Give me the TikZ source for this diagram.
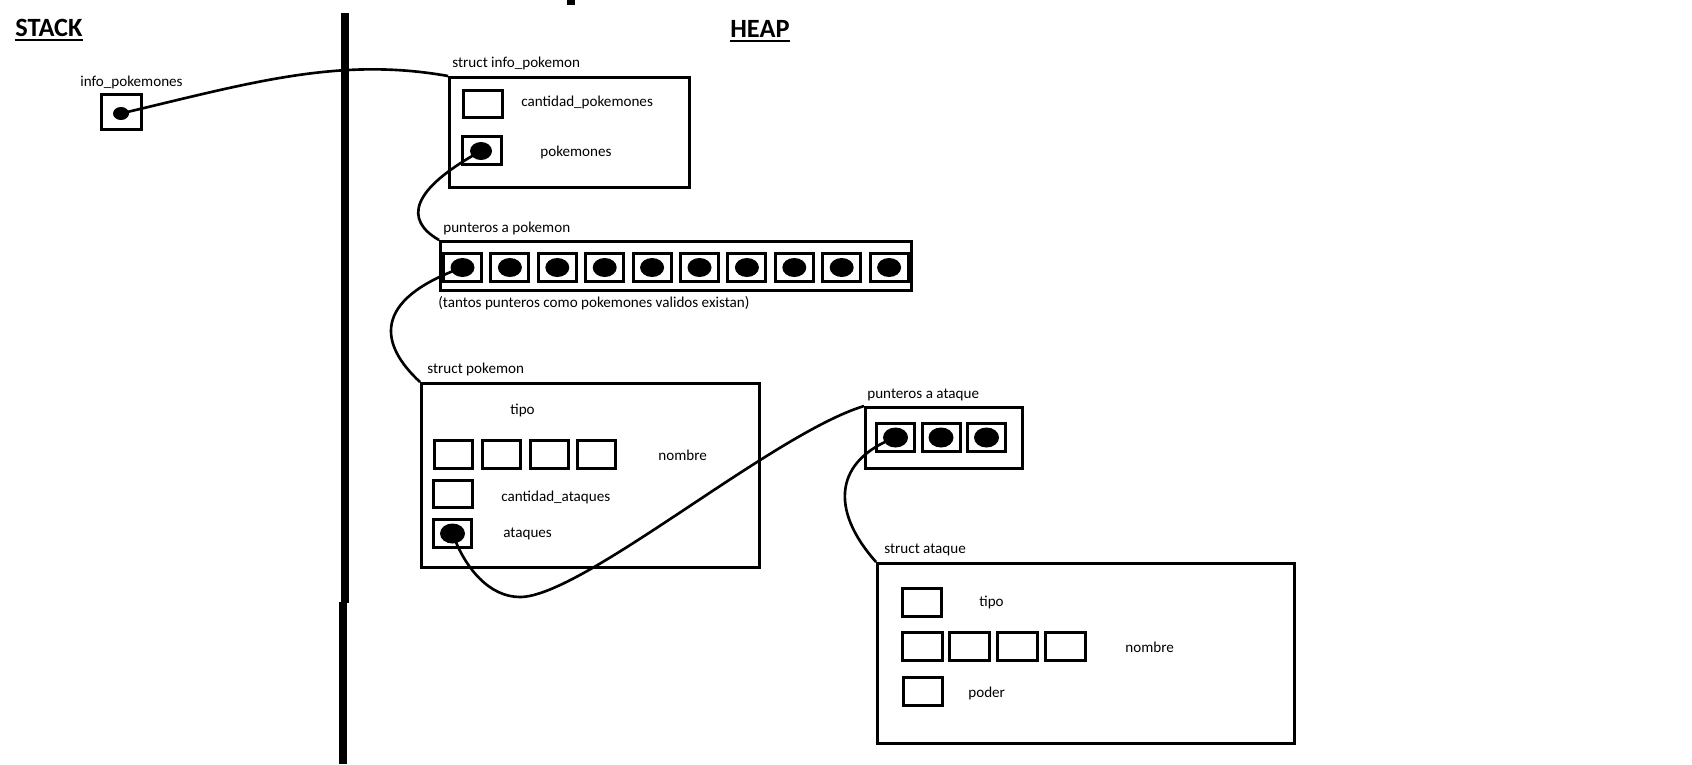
\documentclass[tikz,border=0pt]{standalone}
\usepackage{fontspec}
\setmainfont{Carlito}
\usetikzlibrary{shapes.geometric}

\begin{document}
\begin{tikzpicture}[x=0.02cm, y=-0.02cm,
    membox/.style={draw, line width=1.7pt, inner sep=0pt},
    cell/.style={membox, minimum width=0.76cm, minimum height=0.56cm},
    ptr/.style={ellipse, fill=black, inner sep=0pt, minimum width=0.48cm, minimum height=0.38cm},
    lbl/.style={anchor=west, inner sep=0pt, font=\fontsize{8.6}{10}\selectfont},
    heading/.style={anchor=base west, inner sep=0pt, font=\fontsize{15}{18}\selectfont\bfseries},
    link/.style={line width=1.5pt},
    wall/.style={line width=4.3pt}]
  \useasboundingbox (0,0) rectangle (1692,764);

  \node[heading] (stack) at (15,36) {STACK};
  \node[heading] (heap) at (730,37) {HEAP};
  \draw[line width=1.1pt] ([yshift=-0.08cm]stack.base west) -- ([yshift=-0.08cm]stack.base east);
  \draw[line width=1.1pt] ([yshift=-0.08cm]heap.base west) -- ([yshift=-0.08cm]heap.base east);
  \draw[wall] (345,13) -- (345,603);
  \draw[wall] (343,602) -- (343,764);
  \fill (567,0) rectangle (575,5);

  % stack
  \node[lbl] (iplbl) at (80,82) {info\_pokemones};
  \node[membox, minimum width=0.80cm, minimum height=0.70cm] (ipbox) at (121.5,112) {};
  \node[ptr, minimum width=0.32cm, minimum height=0.26cm] (ipdot) at (121,113.5) {};

  % struct info_pokemon
  \node[lbl] (infolbl) at (452,63) {struct info\_pokemon};
  \node[membox, minimum width=4.80cm, minimum height=2.20cm] (infobox) at (569.5,132.5) {};
  \node[cell, minimum width=0.78cm, minimum height=0.54cm] (cantbox) at (483,104) {};
  \node[lbl] (cantlbl) at (521,102) {cantidad\_pokemones};
  \node[cell, minimum width=0.78cm] (pkbox) at (482,150.5) {};
  \node[ptr, minimum width=0.44cm, minimum height=0.36cm] (pkdot) at (481,151) {};
  \node[lbl] (pklbl) at (540,152) {pokemones};

  % punteros a pokemon
  \node[lbl] (pplbl) at (443,228) {punteros a pokemon};
  \node[membox, minimum width=9.42cm, minimum height=0.98cm] (ppbox) at (676,266) {};
  \foreach \i in {0,...,9}{
    \node[cell] (pp\i) at (462.5+47.4*\i,267.5) {};
    \node[ptr] (ppd\i) at (pp\i) {};
  }
  \node[lbl] (ppnote) at (438,303) {(tantos punteros como pokemones validos existan)};

  % struct pokemon
  \node[lbl] (pokelbl) at (427,369) {struct pokemon};
  \node[membox, minimum width=6.76cm, minimum height=3.68cm] (pokebox) at (590.5,475.5) {};
  \node[lbl] (tipolbl) at (510,410) {tipo};
  \foreach \i in {0,...,3}
    \node[cell] (nom\i) at (453.5+47.8*\i,454.5) {};
  \node[lbl] (nomlbl) at (658,455) {nombre};
  \node[cell, minimum width=0.78cm, minimum height=0.54cm] (cabox) at (453,494) {};
  \node[lbl] (calbl) at (501,497) {cantidad\_ataques};
  \node[cell] (atbox) at (452.5,533.5) {};
  \node[ptr, minimum width=0.50cm, minimum height=0.40cm] (atdot) at (atbox) {};
  \node[lbl] (atlbl) at (503,534) {ataques};

  % punteros a ataque
  \node[lbl] (palbl) at (867,395) {punteros a ataque};
  \node[membox, minimum width=3.14cm, minimum height=1.22cm] (pabox) at (944,438) {};
  \foreach \i in {0,1,2}{
    \node[cell] (pa\i) at (895.5+45.5*\i,437.5) {};
    \node[ptr, minimum width=0.50cm, minimum height=0.40cm] (pad\i) at (pa\i) {};
  }

  % struct ataque
  \node[lbl] (atklbl) at (884,550) {struct ataque};
  \node[membox, minimum width=8.34cm, minimum height=3.60cm] (atkbox) at (1086,653.5) {};
  \node[cell, minimum width=0.78cm] (tpbox) at (922,602.5) {};
  \node[lbl] (tplbl) at (979,602) {tipo};
  \foreach \i in {0,...,3}
    \node[cell, minimum width=0.80cm] (anom\i) at (922+47.7*\i,646) {};
  \node[lbl] (anomlbl) at (1125,647) {nombre};
  \node[cell, minimum width=0.78cm] (pdbox) at (923,691.5) {};
  \node[lbl] (pdlbl) at (968,693) {poder};

  % punteros
  \coordinate (lowpt) at (520,597);
  \draw[link] (ipdot.center) .. controls +(129,-30.5) and +(-109.5,-19.5) .. (infobox.north west);
  \draw[link] (pkdot.center) .. controls +(-71,39) and +(-35,-20) .. (ppbox.north west);
  \draw[link] (ppd0.center) .. controls +(-92,33) and +(-40,-37) .. (pokebox.north west);
  \draw[link] (atdot.center) .. controls +(13,36) and +(-30,0) .. (lowpt)
     .. controls +(62,0) and +(-92,28) .. (pabox.north west);
  \draw[link] (pad0.center) .. controls +(-60,22.5) and +(-47.5,-53.5) .. (atkbox.north west);
  %\draw[link] (pad1.center) -- (pad2.center);
\end{tikzpicture}
\end{document}
